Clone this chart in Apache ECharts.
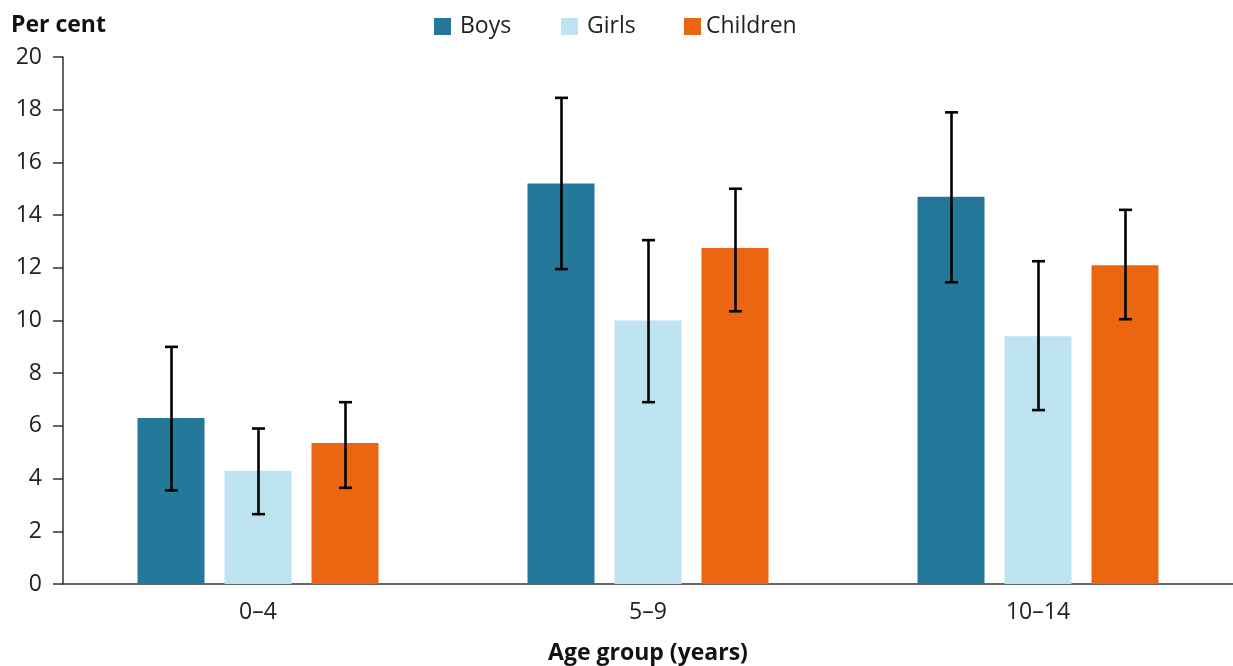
<!DOCTYPE html>
<html>
<head>
<meta charset="utf-8">
<script src="https://cdn.jsdelivr.net/npm/echarts@6/dist/echarts.min.js"></script>
<style>
html,body{margin:0;padding:0;background:#fff;}
#chart{width:1233px;height:666px;}
</style>
</head>
<body>
<div id="chart"></div>
<script>
const categories = ['0–4', '5–9', '10–14'];
const seriesNames = ['Boys', 'Girls', 'Children'];
const boys = [6.3, 15.2, 14.7];
const girls = [4.3, 10.0, 9.4];
const children = [5.35, 12.75, 12.1];
const boysLow = [3.55, 11.95, 11.45];
const boysHigh = [9.0, 18.45, 17.9];
const girlsLow = [2.65, 6.9, 6.6];
const girlsHigh = [5.9, 13.05, 12.25];
const childrenLow = [3.65, 10.35, 10.05];
const childrenHigh = [6.9, 15.0, 14.2];
const yTicks = [0, 2, 4, 6, 8, 10, 12, 14, 16, 18, 20];

const colors = ['#24799a', '#bde2f0', '#eb6611'];
const values = [boys, girls, children];
const lows = [boysLow, girlsLow, childrenLow];
const highs = [boysHigh, girlsHigh, childrenHigh];
const BAR_W = 67, BAR_GAP = 20;
const FONT = '"Open Sans", "Noto Sans", sans-serif';
const FS = 23;

const chart = echarts.init(document.getElementById('chart'));

const series = [];
seriesNames.forEach((name, i) => {
  series.push({
    name: name,
    type: 'bar',
    data: values[i],
    barWidth: BAR_W,
    barGap: (BAR_GAP / BAR_W * 100) + '%',
    itemStyle: { color: colors[i] },
    emphasis: { disabled: true },
    z: 2
  });
});
seriesNames.forEach((name, i) => {
  const offset = (i - 1) * (BAR_W + BAR_GAP);
  series.push({
    type: 'custom',
    name: name + ' error',
    data: categories.map((c, k) => [k, lows[i][k], highs[i][k]]),
    z: 5,
    silent: true,
    renderItem: function (params, api) {
      const k = api.value(0);
      const lo = api.coord([k, api.value(1)]);
      const hi = api.coord([k, api.value(2)]);
      const x = lo[0] + offset + 0.5;
      const cap = 6.5;
      const st = { stroke: '#000', lineWidth: 2.6 };
      return {
        type: 'group',
        children: [
          { type: 'line', shape: { x1: x, y1: lo[1], x2: x, y2: hi[1] }, style: st },
          { type: 'line', shape: { x1: x - cap, y1: lo[1], x2: x + cap, y2: lo[1] }, style: st },
          { type: 'line', shape: { x1: x - cap, y1: hi[1], x2: x + cap, y2: hi[1] }, style: st }
        ]
      };
    },
    encode: { x: 0, y: [1, 2] }
  });
});

const legendLefts = [429, 556, 679];
const legendTextPad = [4, 4, 0];
const legends = seriesNames.map((name, i) => ({
  data: [name],
  left: legendLefts[i],
  top: 10,
  itemWidth: 17,
  itemHeight: 17,
  icon: 'rect',
  selectedMode: false,
  textStyle: { fontFamily: FONT, fontSize: FS, color: '#222', padding: [0, 0, 0, legendTextPad[i]] }
}));

chart.setOption({
  animation: false,
  backgroundColor: '#fff',
  title: {
    text: 'Per cent',
    left: 6,
    top: 9,
    textStyle: { fontFamily: FONT, fontWeight: 'bold', fontSize: FS, color: '#111' }
  },
  legend: legends,
  grid: { left: 63, right: 0, top: 57, bottom: 82, containLabel: false, outerBoundsMode: 'none' },
  xAxis: {
    type: 'category',
    data: categories,
    name: 'Age group (years)',
    nameLocation: 'middle',
    nameGap: 58,
    nameTextStyle: { fontFamily: FONT, fontWeight: 'bold', fontSize: FS, color: '#111' },
    axisLine: { lineStyle: { color: '#333', width: 1.5 } },
    axisTick: { show: false },
    axisLabel: { fontFamily: FONT, fontSize: FS, color: '#222', margin: 17 }
  },
  yAxis: {
    type: 'value',
    min: 0,
    max: 20,
    interval: 2,
    axisLine: { show: true, lineStyle: { color: '#333', width: 1.5 } },
    axisTick: { show: true, length: 10, lineStyle: { color: '#333', width: 1.5 } },
    splitLine: { show: false },
    axisLabel: {
      fontFamily: FONT, fontSize: FS, color: '#222', margin: 21,
      formatter: v => yTicks.includes(v) ? String(v) : ''
    }
  },
  series: series
});
</script>
</body>
</html>
